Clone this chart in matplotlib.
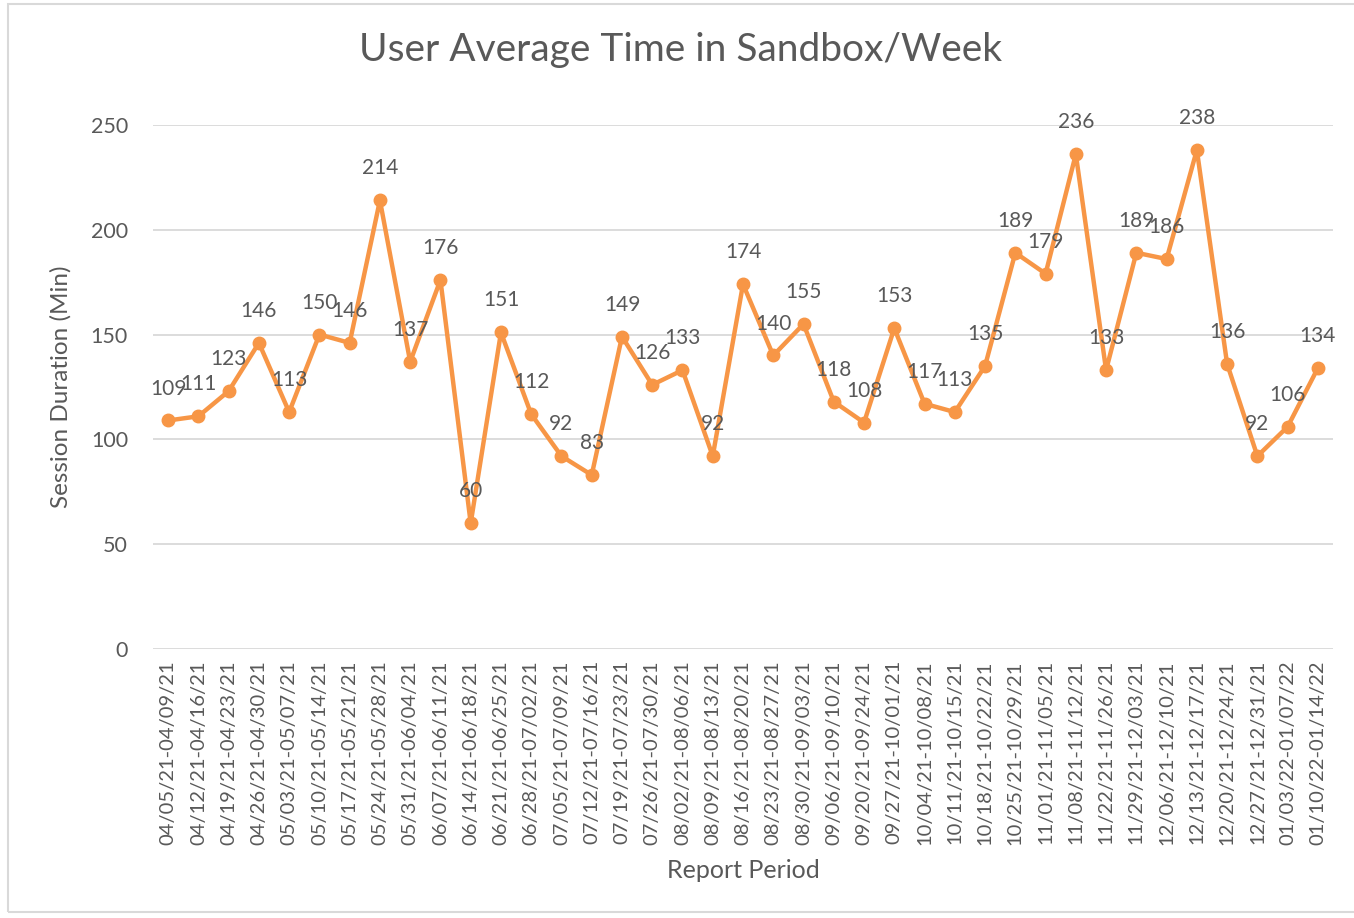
import matplotlib.pyplot as plt
from matplotlib.patches import Rectangle
import numpy as np

# DATA
start_dates = ['04/05/21', '04/12/21', '04/19/21', '04/26/21', '05/03/21', '05/10/21',
               '05/17/21', '05/24/21', '05/31/21', '06/07/21', '06/14/21', '06/21/21',
               '06/28/21', '07/05/21', '07/12/21', '07/19/21', '07/26/21', '08/02/21',
               '08/09/21', '08/16/21', '08/23/21', '08/30/21', '09/06/21', '09/20/21',
               '09/27/21', '10/04/21', '10/11/21', '10/18/21', '10/25/21', '11/01/21',
               '11/08/21', '11/22/21', '11/29/21', '12/06/21', '12/13/21', '12/20/21',
               '12/27/21', '01/03/22', '01/10/22']
end_dates = ['04/09/21', '04/16/21', '04/23/21', '04/30/21', '05/07/21', '05/14/21',
             '05/21/21', '05/28/21', '06/04/21', '06/11/21', '06/18/21', '06/25/21',
             '07/02/21', '07/09/21', '07/16/21', '07/23/21', '07/30/21', '08/06/21',
             '08/13/21', '08/20/21', '08/27/21', '09/03/21', '09/10/21', '09/24/21',
             '10/01/21', '10/08/21', '10/15/21', '10/22/21', '10/29/21', '11/05/21',
             '11/12/21', '11/26/21', '12/03/21', '12/10/21', '12/17/21', '12/24/21',
             '12/31/21', '01/07/22', '01/14/22']
minutes = [109, 111, 123, 146, 113, 150, 146, 214, 137, 176, 60, 151, 112, 92, 83,
           149, 126, 133, 92, 174, 140, 155, 118, 108, 153, 117, 113, 135, 189, 179,
           236, 133, 189, 186, 238, 136, 92, 106, 134]

periods = [s + '-' + e for s, e in zip(start_dates, end_dates)]

plt.rcParams['font.family'] = ['Lato', 'DejaVu Sans']
grey = '#595959'
orange = '#F79646'

fig = plt.figure(figsize=(13.54, 9.18), dpi=100)
ax = fig.add_axes([0.113, 0.293, 0.8715, 0.571])

x = np.arange(len(minutes))
ax.plot(x, minutes, color=orange, lw=3.2, marker='o', ms=9, zorder=3)
for xi, v in zip(x, minutes):
    ax.annotate(str(v), (xi, v), xytext=(0, 23), textcoords='offset points',
                ha='center', va='center', fontsize=15, color=grey, zorder=4)

ax.set_xlim(-0.5, len(minutes) - 0.5)
ax.set_ylim(0, 250)
ax.set_yticks(range(0, 251, 50))
ax.set_xticks(x)
ax.set_xticklabels(periods, rotation=90, fontsize=14.5, color=grey)
ax.tick_params(axis='y', length=0, pad=18, labelsize=15.5, labelcolor=grey)
ax.tick_params(axis='x', length=0, pad=8)
ax.grid(axis='y', color='#D9D9D9', lw=1.3)
ax.set_axisbelow(True)
for s in ax.spines.values():
    s.set_visible(False)

ax.set_ylabel('Session Duration (Min)', fontsize=17.5, color=grey, labelpad=14)
ax.set_xlabel('Report Period', fontsize=18, color=grey, labelpad=10)
fig.text(0.503, 0.945, 'User Average Time in Sandbox/Week', ha='center', va='center',
         fontsize=28, color=grey)

fig.patches.append(Rectangle((0.006, 0.007), 0.998, 0.989, transform=fig.transFigure,
                             fill=False, edgecolor='#D9D9D9', lw=1.5))

fig.savefig('out.png', dpi=100)
